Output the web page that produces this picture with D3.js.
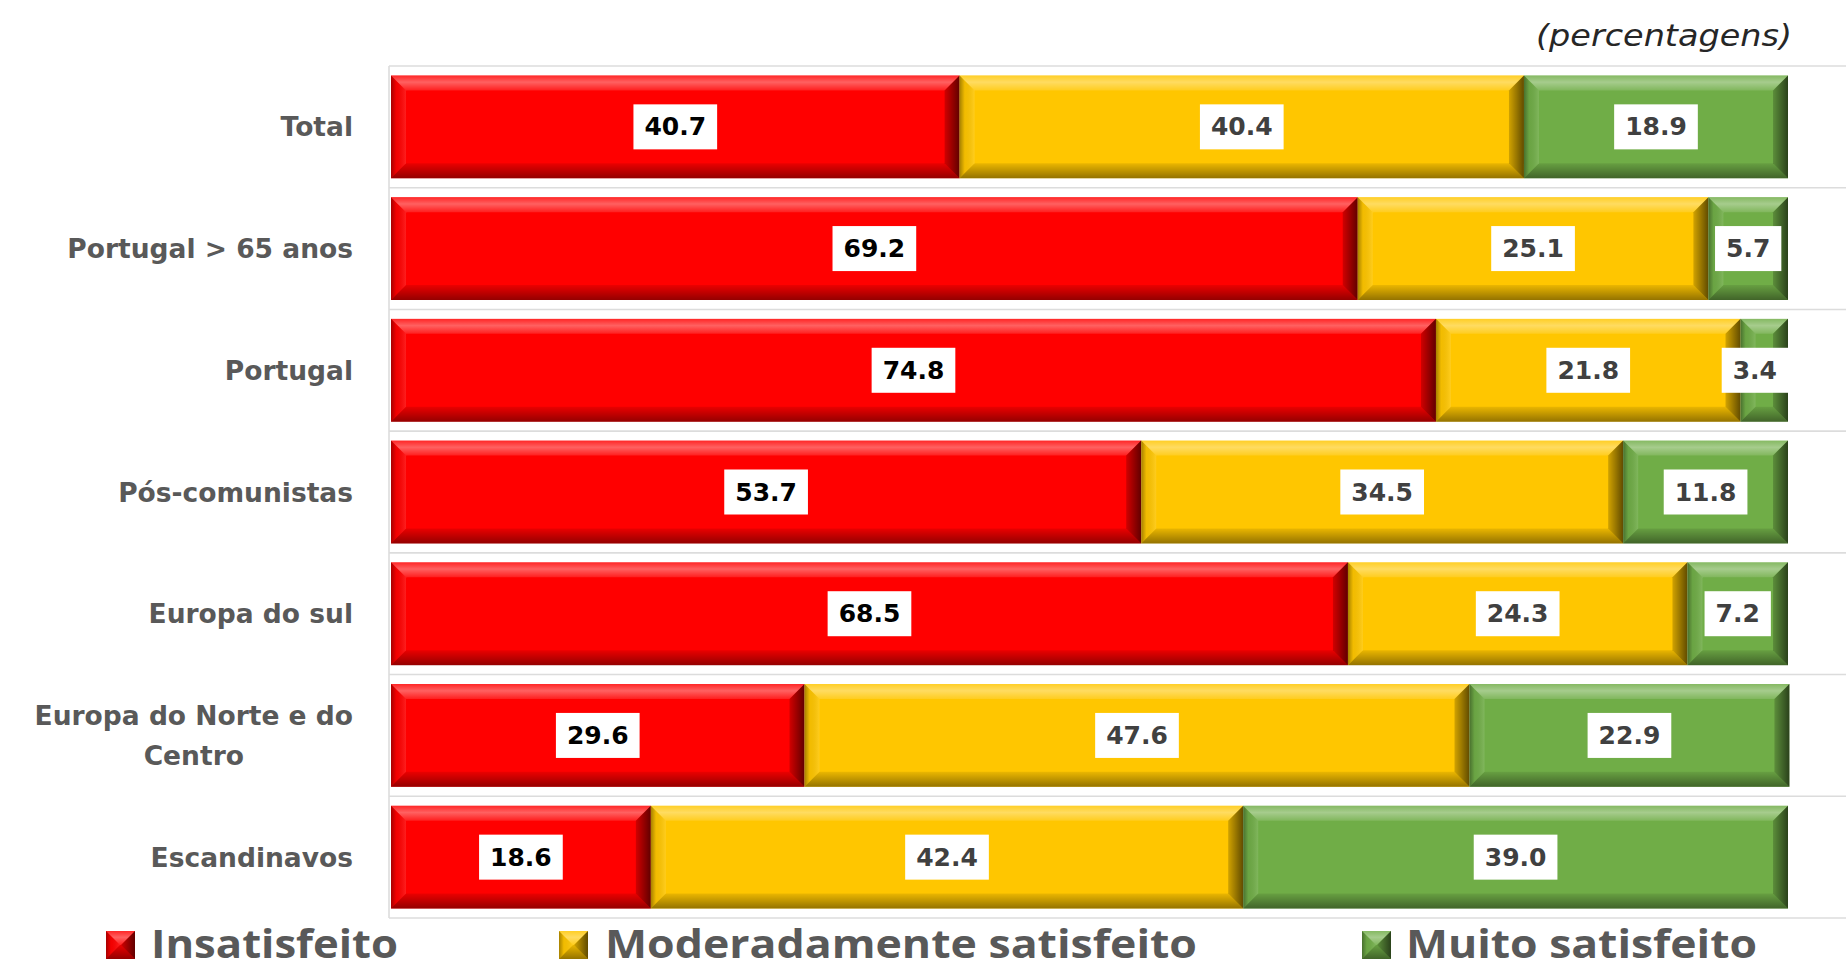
<!DOCTYPE html>
<html>
<head>
<meta charset="utf-8">
<script src="https://cdn.jsdelivr.net/npm/d3@7"></script>
<style>
  html, body { margin: 0; padding: 0; background: #ffffff; }
  svg { display: block; }
</style>
</head>
<body>
<svg id="chart" width="1846" height="970"></svg>
<script>
// Satisfaction levels by region group (percentages)
const categories = [
  "Total",
  "Portugal > 65 anos",
  "Portugal",
  "Pós-comunistas",
  "Europa do sul",
  "Europa do Norte e do Centro",
  "Escandinavos"
];
const insatisfeito = [40.7, 69.2, 74.8, 53.7, 68.5, 29.6, 18.6];
const moderadamente = [40.4, 25.1, 21.8, 34.5, 24.3, 47.6, 42.4];
const muito = [18.9, 5.7, 3.4, 11.8, 7.2, 22.9, 39.0];

const seriesNames = ["Insatisfeito", "Moderadamente satisfeito", "Muito satisfeito"];
const seriesColors = ["#ff0000", "#ffc600", "#70ad47"];
const labelColors = ["#000000", "#404040", "#404040"];
const unitNote = "(percentagens)";

const rows = categories.map((c, i) => ({
  cat: c,
  values: [insatisfeito[i], moderadamente[i], muito[i]]
}));

const svg = d3.select("#chart");
const plot = { left: 391, right: 1788, top: 66, bottom: 918 };

const x = d3.scaleLinear().domain([0, 100]).range([plot.left, plot.right]);
const y = d3.scaleBand()
  .domain(categories)
  .range([plot.top, plot.bottom])
  .paddingInner(0.155)
  .paddingOuter(0.0775);

// Gradients for the bevelled edges
const defs = svg.append("defs");
function grad(id, x1, y1, x2, y2, stops) {
  const g = defs.append("linearGradient").attr("id", id)
    .attr("x1", x1).attr("y1", y1).attr("x2", x2).attr("y2", y2);
  stops.forEach(s => g.append("stop").attr("offset", s[0])
    .attr("stop-color", s[1]).attr("stop-opacity", s[2]));
}
grad("bevTop", 0, 0, 0, 1, [[0, "#ffffff", 0.15], [0.45, "#ffffff", 0.38], [1, "#ffffff", 0.12]]);
grad("bevBottom", 0, 0, 0, 1, [[0, "#000000", 0.08], [1, "#000000", 0.42]]);
grad("bevRight", 0, 0, 1, 0, [[0, "#000000", 0.18], [1, "#000000", 0.62]]);
grad("bevLeft", 0, 0, 1, 0, [[0, "#000000", 0.35], [0.35, "#000000", 0.05], [1, "#ffffff", 0.12]]);

function bevel(g, x0, y0, w, h, color, bMax) {
  const b = Math.max(0, Math.min(bMax, w / 2, h / 2));
  g.append("rect").attr("x", x0).attr("y", y0).attr("width", w).attr("height", h).attr("fill", color);
  const x1 = x0 + w, y1 = y0 + h;
  const poly = (pts, fill) => g.append("polygon")
    .attr("points", pts.map(p => p.join(",")).join(" "))
    .attr("fill", fill);
  poly([[x0, y0], [x1, y0], [x1 - b, y0 + b], [x0 + b, y0 + b]], "url(#bevTop)");
  poly([[x0, y0], [x0 + b, y0 + b], [x0 + b, y1 - b], [x0, y1]], "url(#bevLeft)");
  poly([[x0, y1], [x0 + b, y1 - b], [x1 - b, y1 - b], [x1, y1]], "url(#bevBottom)");
  poly([[x1, y0], [x1, y1], [x1 - b, y1 - b], [x1 - b, y0 + b]], "url(#bevRight)");
}

// Gridlines at band boundaries
const step = y.step();
const half = step * y.paddingInner() / 2;
const gridY = categories.map(c => y(c) - half).concat([y(categories[categories.length - 1]) + y.bandwidth() + half]);
svg.append("g").selectAll("line").data(gridY).join("line")
  .attr("x1", plot.left - 2).attr("x2", 1846)
  .attr("y1", d => d).attr("y2", d => d)
  .attr("stroke", "#dcdcdc").attr("stroke-width", 1.6);
svg.append("line")
  .attr("x1", plot.left - 2).attr("x2", plot.left - 2)
  .attr("y1", gridY[0]).attr("y2", gridY[gridY.length - 1])
  .attr("stroke", "#dcdcdc").attr("stroke-width", 1.6);

// Stacked bevelled bars
const barsG = svg.append("g");
const labelsG = svg.append("g");
rows.forEach(r => {
  let acc = 0;
  const yTop = y(r.cat), h = y.bandwidth();
  r.values.forEach((v, k) => {
    const x0 = x(acc), x1 = x(acc + v);
    bevel(barsG.append("g"), x0, yTop, x1 - x0, h, seriesColors[k], 15);
    acc += v;
  });
});

// Value labels in white boxes
rows.forEach(r => {
  let acc = 0;
  const cy = y(r.cat) + y.bandwidth() / 2;
  r.values.forEach((v, k) => {
    const cx = (x(acc) + x(acc + v)) / 2;
    acc += v;
    const g = labelsG.append("g");
    const t = g.append("text")
      .attr("x", cx).attr("y", cy)
      .attr("text-anchor", "middle").attr("dominant-baseline", "central")
      .attr("font-family", "DejaVu Sans, Verdana, sans-serif")
      .attr("font-weight", "bold").attr("font-size", 25)
      .attr("fill", labelColors[k])
      .text(v.toFixed(1));
    const tw = t.node().getComputedTextLength();
    const bw = tw + 22, bh = 45;
    let bx = cx - bw / 2;
    if (bx + bw > plot.right) bx = plot.right - bw;
    t.attr("x", bx + bw / 2);
    g.insert("rect", "text")
      .attr("x", bx).attr("y", cy - bh / 2)
      .attr("width", bw).attr("height", bh)
      .attr("fill", "#ffffff");
  });
});

// Category labels (wrapped and centred when too long)
const labelRight = 353, labelMaxW = 345;
const catG = svg.append("g")
  .attr("font-family", "DejaVu Sans, Verdana, sans-serif")
  .attr("font-weight", "bold").attr("font-size", 26.5).attr("fill", "#595959");
function measure(s) {
  const p = catG.append("text").text(s);
  const wd = p.node().getComputedTextLength();
  p.remove();
  return wd;
}
categories.forEach(c => {
  const cy = y(c) + y.bandwidth() / 2;
  if (measure(c) <= labelMaxW) {
    catG.append("text").attr("x", labelRight).attr("y", cy)
      .attr("text-anchor", "end").attr("dominant-baseline", "central").text(c);
  } else {
    const words = c.split(" ");
    const lines = [];
    let cur = "";
    words.forEach(w => {
      const test = cur ? cur + " " + w : w;
      if (measure(test) > labelMaxW && cur) { lines.push(cur); cur = w; } else { cur = test; }
    });
    lines.push(cur);
    const maxW = d3.max(lines, measure);
    const cx = labelRight - maxW / 2;
    const lh = 40;
    lines.forEach((l, i) => {
      catG.append("text").attr("x", cx)
        .attr("y", cy + (i - (lines.length - 1) / 2) * lh)
        .attr("text-anchor", "middle").attr("dominant-baseline", "central").text(l);
    });
  }
});

// Unit note
svg.append("text")
  .attr("x", 1792).attr("y", 35)
  .attr("text-anchor", "end").attr("dominant-baseline", "central")
  .attr("font-family", "DejaVu Sans, Verdana, sans-serif")
  .attr("font-style", "italic").attr("font-size", 31).attr("fill", "#262626")
  .attr("textLength", 256).attr("lengthAdjust", "spacingAndGlyphs")
  .text(unitNote);

// Legend
const legendItems = [
  { mx: 106, tx: 151, tw: 247 },
  { mx: 559, tx: 605, tw: 592 },
  { mx: 1362, tx: 1406, tw: 351 }
];
const legG = svg.append("g");
seriesNames.forEach((name, i) => {
  const it = legendItems[i];
  bevel(legG.append("g"), it.mx, 931, 29, 28, seriesColors[i], 14);
  legG.append("text")
    .attr("x", it.tx).attr("y", 958)
    .attr("font-family", "'Open Sans', sans-serif")
    .attr("font-weight", "bold").attr("font-size", 40).attr("fill", "#595959")
    .attr("textLength", it.tw).attr("lengthAdjust", "spacingAndGlyphs")
    .text(name);
});
</script>
</body>
</html>
